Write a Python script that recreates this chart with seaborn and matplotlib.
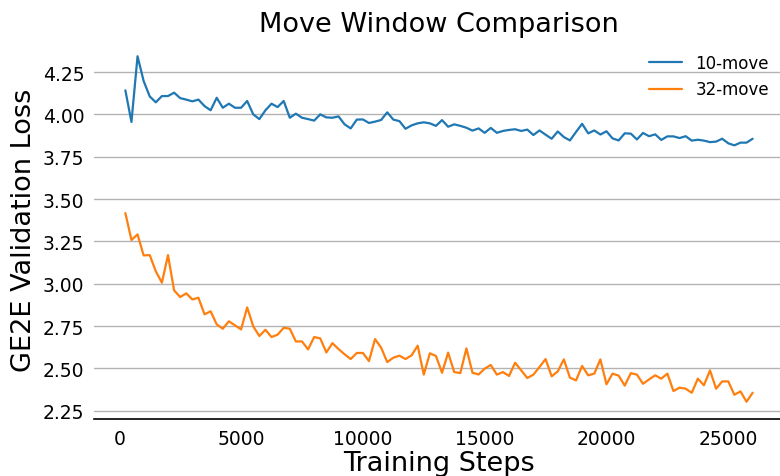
import matplotlib
matplotlib.use("Agg")
import matplotlib.pyplot as plt
import pandas as pd
import seaborn as sns

# training steps (one evaluation every 250 steps)
steps = list(range(250, 26001, 250))

loss_10_move = [
    4.142, 3.955, 4.343, 4.197, 4.106, 4.071, 4.108, 4.108, 4.128, 4.096,
    4.087, 4.077, 4.087, 4.049, 4.024, 4.098, 4.039, 4.063, 4.039, 4.039,
    4.079, 4.000, 3.972, 4.024, 4.063, 4.043, 4.079, 3.980, 4.004, 3.980,
    3.972, 3.963, 4.000, 3.982, 3.980, 3.988, 3.941, 3.917, 3.969, 3.970,
    3.949, 3.957, 3.967, 4.012, 3.969, 3.960, 3.915, 3.935, 3.947, 3.953,
    3.947, 3.932, 3.966, 3.927, 3.941, 3.932, 3.921, 3.904, 3.917, 3.891,
    3.920, 3.891, 3.902, 3.908, 3.912, 3.902, 3.910, 3.878, 3.905, 3.880,
    3.856, 3.899, 3.866, 3.846, 3.896, 3.944, 3.888, 3.905, 3.881, 3.900,
    3.858, 3.846, 3.888, 3.886, 3.852, 3.890, 3.871, 3.882, 3.849, 3.870,
    3.870, 3.860, 3.871, 3.845, 3.850, 3.845, 3.836, 3.839, 3.856, 3.829,
    3.817, 3.833, 3.833, 3.856,
]

loss_32_move = [
    3.417, 3.258, 3.291, 3.167, 3.169, 3.073, 3.006, 3.169, 2.961, 2.921,
    2.943, 2.907, 2.917, 2.819, 2.837, 2.760, 2.734, 2.778, 2.754, 2.730,
    2.860, 2.748, 2.691, 2.728, 2.685, 2.699, 2.740, 2.734, 2.659, 2.659,
    2.612, 2.685, 2.677, 2.594, 2.649, 2.614, 2.583, 2.555, 2.591, 2.591,
    2.543, 2.673, 2.622, 2.537, 2.563, 2.575, 2.555, 2.577, 2.634, 2.463,
    2.589, 2.573, 2.474, 2.593, 2.478, 2.472, 2.618, 2.474, 2.464, 2.498,
    2.520, 2.463, 2.478, 2.455, 2.533, 2.488, 2.443, 2.463, 2.508, 2.555,
    2.453, 2.482, 2.553, 2.445, 2.429, 2.514, 2.459, 2.469, 2.553, 2.406,
    2.469, 2.457, 2.398, 2.472, 2.463, 2.409, 2.435, 2.459, 2.439, 2.469,
    2.366, 2.386, 2.380, 2.356, 2.439, 2.400, 2.488, 2.380, 2.423, 2.423,
    2.344, 2.364, 2.303, 2.356,
]

series_names = ["10-move", "32-move"]
yticks = [2.25, 2.50, 2.75, 3.00, 3.25, 3.50, 3.75, 4.00, 4.25]

df = pd.concat([
    pd.DataFrame({"step": steps, "loss": loss_10_move, "window": series_names[0]}),
    pd.DataFrame({"step": steps, "loss": loss_32_move, "window": series_names[1]}),
])

sns.set_style("white")
plt.rcParams["font.family"] = ["DejaVu Sans"]
plt.rcParams["text.color"] = "black"
plt.rcParams["axes.labelcolor"] = "black"
plt.rcParams["xtick.color"] = "black"
plt.rcParams["ytick.color"] = "black"

fig, ax = plt.subplots(figsize=(7.8, 4.77), dpi=100)
fig.subplots_adjust(left=94 / 780, right=784 / 780, top=1 - 40 / 477, bottom=1 - 420 / 477)

sns.lineplot(data=df, x="step", y="loss", hue="window",
             palette=["#1f77b4", "#ff7f0e"], linewidth=1.6, ax=ax)

ax.set_yticks(yticks)
ax.yaxis.grid(True, color="#b3b3b3", linewidth=1.0)
ax.xaxis.grid(False)
for side in ["left", "right", "top"]:
    ax.spines[side].set_visible(False)
ax.spines["bottom"].set_color("black")
ax.spines["bottom"].set_linewidth(1.2)
ax.tick_params(axis="both", length=0, pad=7, labelsize=13.5)

ax.set_title("Move Window Comparison", fontsize=19.5, pad=6, color="black")
ax.set_xlabel("Training Steps", fontsize=19.5, labelpad=2)
ax.set_ylabel("GE2E Validation Loss", fontsize=19.5, labelpad=4)
ax.legend(frameon=False, fontsize=12, loc="upper right")

fig.savefig("out.png", dpi=100)
